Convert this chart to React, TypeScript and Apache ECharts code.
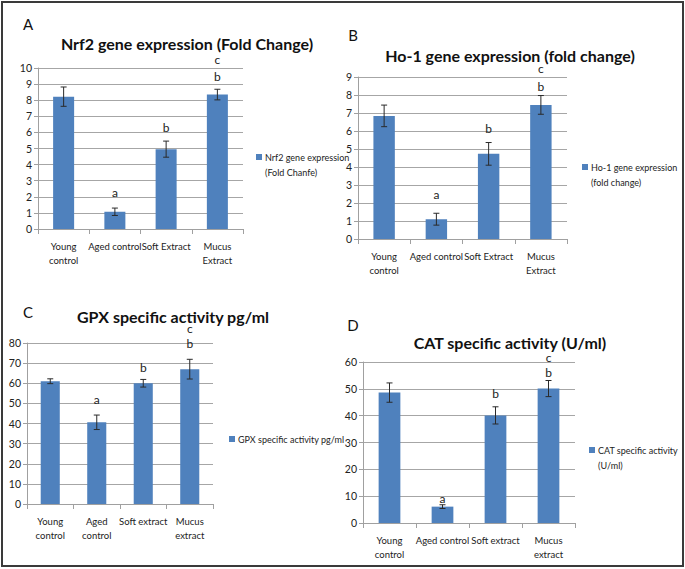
import { useEffect, useRef } from 'react';
import * as echarts from 'echarts';

const FONT = 'Lato, "Open Sans", sans-serif';
const BAR = '#4f81bd';

const catsA = ['Young\ncontrol', 'Aged control', 'Soft Extract', 'Mucus\nExtract'];
const catsB = ['Young\ncontrol', 'Aged control', 'Soft Extract', 'Mucus\nExtract'];
const catsC = ['Young\ncontrol', 'Aged\ncontrol', 'Soft extract', 'Mucus\nextract'];
const catsD = ['Young\ncontrol', 'Aged control', 'Soft extract', 'Mucus\nextract'];

const nrf2 = [8.22, 1.07, 4.96, 8.35];
const nrf2Err = [0.6, 0.23, 0.5, 0.33];
const ho1 = [6.84, 1.1, 4.73, 7.45];
const ho1Err = [0.6, 0.33, 0.63, 0.52];
const gpx = [61, 40.6, 60, 67];
const gpxErr = [1.2, 3.6, 1.9, 4.9];
const cat = [48.6, 6.1, 40.1, 50.1];
const catErr = [3.6, 0.7, 3.2, 3];

// [category index, y position, letter]
const lettersA: [number, number, string][] = [[1, 2.25, 'a'], [2, 6.3, 'b'], [3, 9.45, 'b'], [3, 10.5, 'c']];
const lettersB: [number, number, string][] = [[1, 2.5, 'a'], [2, 6.15, 'b'], [3, 8.5, 'b'], [3, 9.45, 'c']];
const lettersC: [number, number, string][] = [[1, 52, 'a'], [2, 68, 'b'], [3, 80, 'b'], [3, 87, 'c']];
const lettersD: [number, number, string][] = [[1, 9.3, 'a'], [2, 48.4, 'b'], [3, 56, 'b'], [3, 61.5, 'c']];

const yMaxA = 10;
const yStepA = 1;
const yMaxB = 9;
const yStepB = 1;
const yMaxC = 80;
const yStepC = 10;
const yMaxD = 60;
const yStepD = 10;

interface Panel {
  tag: string;
  title: string;
  legend: string[];
  cats: string[];
  values: number[];
  errs: number[];
  letters: [number, number, string][];
  max: number;
  step: number;
  grid: { left: number; top: number; width: number; height: number };
  tagPos: [number, number];
  titlePos: [number, number];
  legendPos: [number, number];
}

const panels: Panel[] = [
  {
    tag: 'A', title: 'Nrf2 gene expression (Fold Change)', legend: ['Nrf2 gene expression', '(Fold Chanfe)'],
    cats: catsA, values: nrf2, errs: nrf2Err, letters: lettersA, max: yMaxA, step: yStepA,
    grid: { left: 38, top: 68, width: 205, height: 161 },
    tagPos: [28, 24], titlePos: [187, 43], legendPos: [259, 157],
  },
  {
    tag: 'B', title: 'Ho-1 gene expression (fold change)', legend: ['Ho-1 gene expression', '(fold change)'],
    cats: catsB, values: ho1, errs: ho1Err, letters: lettersB, max: yMaxB, step: yStepB,
    grid: { left: 358, top: 77, width: 209, height: 162 },
    tagPos: [353, 35], titlePos: [510, 55], legendPos: [585, 167],
  },
  {
    tag: 'C', title: 'GPX specific activity pg/ml', legend: ['GPX specific activity pg/ml'],
    cats: catsC, values: gpx, errs: gpxErr, letters: lettersC, max: yMaxC, step: yStepC,
    grid: { left: 27, top: 343, width: 186, height: 161 },
    tagPos: [28, 312], titlePos: [173, 316], legendPos: [232, 439],
  },
  {
    tag: 'D', title: 'CAT specific activity (U/ml)', legend: ['CAT specific activity', '(U/ml)'],
    cats: catsD, values: cat, errs: catErr, letters: lettersD, max: yMaxD, step: yStepD,
    grid: { left: 363, top: 362, width: 212, height: 161 },
    tagPos: [353, 325], titlePos: [510, 342], legendPos: [592, 450],
  },
];

export default function App() {
  const chartRef = useRef<HTMLDivElement>(null);

  useEffect(() => {
    if (!chartRef.current) return;
    document.body.style.margin = '0';
    const chart = echarts.init(chartRef.current, undefined, { renderer: 'svg' });

    const grids: any[] = [];
    const xAxes: any[] = [];
    const yAxes: any[] = [];
    const series: any[] = [];
    const graphics: any[] = [
      {
        type: 'rect',
        shape: { x: 2, y: 2, width: 681, height: 564 },
        style: { fill: 'none', stroke: '#3a3a3a', lineWidth: 2 },
        silent: true,
      },
    ];

    panels.forEach((p, i) => {
      grids.push({ ...p.grid, containLabel: false });
      xAxes.push({
        type: 'category',
        gridIndex: i,
        data: p.cats,
        axisLine: { lineStyle: { color: '#a0a0a0' } },
        axisTick: { show: true, alignWithLabel: false, length: 5, lineStyle: { color: '#a0a0a0' } },
        axisLabel: { color: '#222', fontFamily: FONT, fontSize: 9.5, lineHeight: 14, margin: 10, interval: 0 },
      });
      yAxes.push({
        type: 'value',
        gridIndex: i,
        min: 0,
        max: p.max,
        interval: p.step,
        axisLine: { show: true, lineStyle: { color: '#a0a0a0' } },
        axisTick: { show: true, length: 4, lineStyle: { color: '#a0a0a0' } },
        axisLabel: { color: '#222', fontFamily: FONT, fontSize: 10.5, margin: 6 },
        splitLine: { lineStyle: { color: '#a6a6a6' } },
      });
      series.push({
        type: 'bar',
        xAxisIndex: i,
        yAxisIndex: i,
        data: p.values,
        barWidth: '41%',
        itemStyle: { color: BAR },
      });
      series.push({
        type: 'custom',
        xAxisIndex: i,
        yAxisIndex: i,
        data: p.values.map((v, k) => [k, v, p.errs[k]]),
        z: 5,
        renderItem: (_params: any, api: any) => {
          const x = api.value(0);
          const v = api.value(1);
          const e = api.value(2);
          const hi = api.coord([x, v + e]);
          const lo = api.coord([x, v - e]);
          const style = { stroke: '#2a2a2a', lineWidth: 1 };
          return {
            type: 'group',
            children: [
              { type: 'line', shape: { x1: hi[0], y1: hi[1], x2: lo[0], y2: lo[1] }, style },
              { type: 'line', shape: { x1: hi[0] - 3, y1: hi[1], x2: hi[0] + 3, y2: hi[1] }, style },
              { type: 'line', shape: { x1: lo[0] - 3, y1: lo[1], x2: lo[0] + 3, y2: lo[1] }, style },
            ],
          };
        },
      });
      series.push({
        type: 'custom',
        xAxisIndex: i,
        yAxisIndex: i,
        data: p.letters.map((l) => [l[0], l[1]]),
        z: 6,
        renderItem: (params: any, api: any) => {
          const pt = api.coord([api.value(0), api.value(1)]);
          return {
            type: 'text',
            x: pt[0],
            y: pt[1],
            style: {
              text: p.letters[params.dataIndex][2],
              fill: '#222',
              font: `12px ${FONT}`,
              align: 'center',
              verticalAlign: 'middle',
            },
          };
        },
      });

      graphics.push({
        type: 'text',
        x: p.tagPos[0],
        y: p.tagPos[1],
        style: { text: p.tag, fill: '#111', font: `15px ${FONT}`, align: 'center', verticalAlign: 'middle' },
      });
      graphics.push({
        type: 'text',
        x: p.titlePos[0],
        y: p.titlePos[1],
        style: { text: p.title, fill: '#111', font: `bold 16px ${FONT}`, align: 'center', verticalAlign: 'middle' },
      });
      graphics.push({
        type: 'rect',
        shape: { x: p.legendPos[0] - 3, y: p.legendPos[1] - 3, width: 6, height: 6 },
        style: { fill: BAR },
      });
      p.legend.forEach((line, k) => {
        graphics.push({
          type: 'text',
          x: p.legendPos[0] + 6,
          y: p.legendPos[1] + k * 15,
          style: { text: line, fill: '#222', font: `9px ${FONT}`, align: 'left', verticalAlign: 'middle' },
        });
      });
    });

    chart.setOption({
      animation: false,
      backgroundColor: '#fff',
      grid: grids,
      xAxis: xAxes,
      yAxis: yAxes,
      series,
      graphic: graphics,
    });

    return () => {
      chart.dispose();
    };
  }, []);

  return <div ref={chartRef} style={{ width: 685, height: 569 }} />;
}
